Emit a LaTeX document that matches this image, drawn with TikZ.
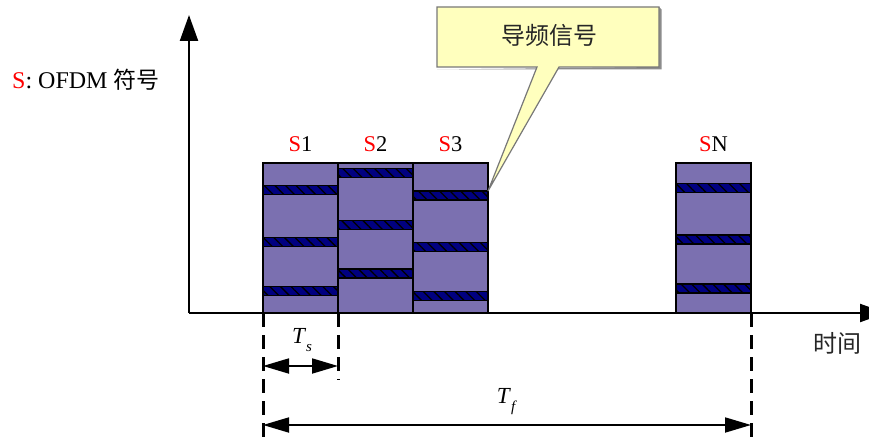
\documentclass[tikz,border=0pt]{standalone}
\usepackage{fontspec}
\setmainfont{Liberation Serif}
\newfontfamily\cjk{Noto Sans CJK SC}
\usetikzlibrary{arrows.meta,patterns.meta}
\definecolor{symfill}{RGB}{123,112,176}
\definecolor{pilot}{RGB}{0,0,128}
\definecolor{calloutfill}{RGB}{255,255,190}
\definecolor{calloutline}{RGB}{120,120,120}
\definecolor{sred}{RGB}{255,0,0}
\begin{document}
\begin{tikzpicture}[x=1pt,y=-1pt,
  symbox/.style={draw=black,line width=1.4pt,fill=symfill,minimum width=75pt,minimum height=150pt,inner sep=0pt,outer sep=0pt},
  pilotstripe/.style={draw=black,line width=1.3pt,fill=pilot,minimum width=75pt,minimum height=9pt,inner sep=0pt,outer sep=0pt,
    postaction={pattern={Lines[angle=-45,distance=7.5pt,line width=1.3pt]},pattern color=black}},
  axisline/.style={line width=2.2pt,-{Triangle[length=26pt,width=18pt]}},
  dashline/.style={line width=3pt,dash pattern=on 14pt off 8pt},
  dimarrow/.style={line width=1.8pt,{Triangle[length=26pt,width=15pt]}-{Triangle[length=26pt,width=15pt]}},
  slabel/.style={font=\fontsize{22.5}{26}\selectfont,inner sep=0pt},
  txt/.style={inner sep=0pt}
]
\clip (0,0) rectangle (869,441);
\fill[white] (0,0) rectangle (869,441);
% axes
\coordinate (origin) at (189,313);
\coordinate (ytip) at (189,15);
\coordinate (xtip) at (886,313);
% symbols
\node[symbox] (s1) at (300.5,238) {};
\node[symbox] (s2) at (375.5,238) {};
\node[symbox] (s3) at (450.5,238) {};
\node[symbox] (sn) at (713.5,238) {};
% pilot stripes
\node[pilotstripe] (s1a) at (300.5,190) {};
\node[pilotstripe] (s1b) at (300.5,242) {};
\node[pilotstripe] (s1c) at (300.5,291) {};
\node[pilotstripe] (s2a) at (375.5,173) {};
\node[pilotstripe] (s2b) at (375.5,225) {};
\node[pilotstripe] (s2c) at (375.5,273.5) {};
\node[pilotstripe] (s3a) at (450.5,195.5) {};
\node[pilotstripe] (s3b) at (450.5,247) {};
\node[pilotstripe] (s3c) at (450.5,296) {};
\node[pilotstripe] (sna) at (713.5,188) {};
\node[pilotstripe] (snb) at (713.5,239.5) {};
\node[pilotstripe] (snc) at (713.5,288.5) {};
% axes drawn on top
\draw[axisline] (origin) -- (ytip);
\draw[axisline] (origin) -- (xtip);
% symbol labels
\node[slabel] (l1) at ([yshift=19pt]s1.north) {\textcolor{sred}{S}1};
\node[slabel] (l2) at ([yshift=19pt]s2.north) {\textcolor{sred}{S}2};
\node[slabel] (l3) at ([yshift=19pt]s3.north) {\textcolor{sred}{S}3};
\node[slabel] (ln) at ([yshift=19pt]sn.north) {\textcolor{sred}{S}N};
% legend
\node[txt,anchor=west,font=\fontsize{24}{28}\selectfont] (legend) at (12,80) {\textcolor{sred}{S}: OFDM {\cjk\fontsize{23}{28}\selectfont 符号}};
\node[txt,font=\cjk\fontsize{24}{28}\selectfont,text=black!85] (time) at (837,343) {时间};
% callout
\coordinate (cnw) at (437,7);
\coordinate (cse) at (659,67);
\coordinate (cbl) at (537,67);
\coordinate (cbr) at (559,67);
\fill[black!45] ([shift={(2.5pt,-2.5pt)}]cnw -| cse) -- ([shift={(2.5pt,-2.5pt)}]cse) -- ([shift={(2.5pt,-2.5pt)}]cse -| cnw) -- ([shift={(0,-2.5pt)}]cse -| cnw) -- (cse) -- (cnw -| cse) -- cycle;
\draw[draw=calloutline,line width=1.2pt,fill=calloutfill,line join=miter]
  (cnw) -- (cnw -| cse) -- (cse) -- (cbr) -- (s3a.north east) -- (cbl) -- (cse -| cnw) -- cycle;
\node[txt,font=\cjk\fontsize{24}{28}\selectfont,text=black!85] (pilotnote) at (549,35) {导频信号};
% dashed guides
\coordinate (d1) at ([yshift=-124pt]s1.south west);
\coordinate (d2) at ([yshift=-67pt]s1.south east);
\coordinate (d3) at ([yshift=-124pt]sn.south east);
\draw[dashline] (s1.south west) -- (d1);
\draw[dashline] (s1.south east) -- (d2);
\draw[dashline] (sn.south east) -- (d3);
% dimension arrows
\coordinate (tsl) at ([yshift=-53pt]s1.south west);
\coordinate (tsr) at ([yshift=-53pt]s1.south east);
\coordinate (tfl) at ([yshift=-112pt]s1.south west);
\coordinate (tfr) at ([yshift=-112pt]sn.south east);
\draw[dimarrow] (tsl) -- (tsr);
\draw[dimarrow] (tfl) -- (tfr);
\node[txt,font=\fontsize{23}{26}\selectfont] (ts) at (302,340) {\textit{T}\raisebox{-0.35em}{\fontsize{15}{18}\selectfont\textit{s}}};
\node[txt,font=\fontsize{23}{26}\selectfont] (tf) at (507,402) {\textit{T}\raisebox{-0.35em}{\fontsize{15}{18}\selectfont\textit{f}}};
\end{tikzpicture}
\end{document}
